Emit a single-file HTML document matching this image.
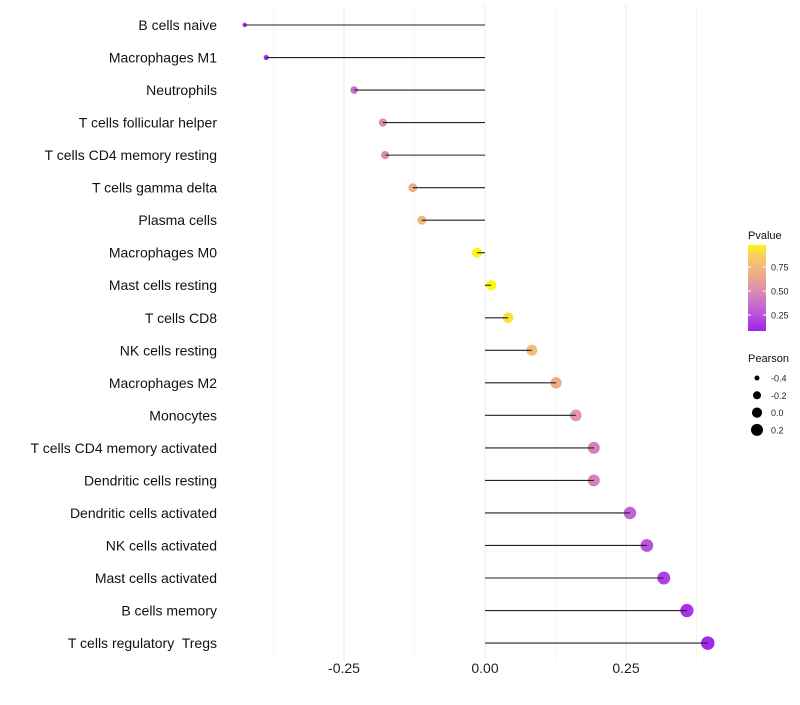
<!DOCTYPE html>
<html><head><meta charset="utf-8"><style>
body{margin:0;background:#fff;font-family:"Liberation Sans",Arial,sans-serif}
svg text{font-family:"Liberation Sans",Arial,sans-serif;white-space:pre}
</style></head><body>
<svg id="chart" width="800" height="700" xmlns="http://www.w3.org/2000/svg"></svg>
<script>
const categories=["B cells naive","Macrophages M1","Neutrophils","T cells follicular helper","T cells CD4 memory resting","T cells gamma delta","Plasma cells","Macrophages M0","Mast cells resting","T cells CD8","NK cells resting","Macrophages M2","Monocytes","T cells CD4 memory activated","Dendritic cells resting","Dendritic cells activated","NK cells activated","Mast cells activated","B cells memory","T cells regulatory  Tregs"];
const pearson=[-0.426,-0.388,-0.232,-0.181,-0.177,-0.128,-0.112,-0.014,0.011,0.041,0.083,0.126,0.161,0.193,0.193,0.257,0.287,0.317,0.358,0.395];
const pvalue=[0.10,0.12,0.38,0.50,0.50,0.68,0.72,0.97,0.98,0.92,0.78,0.68,0.56,0.45,0.45,0.32,0.26,0.20,0.15,0.12];
const xTicks=[-0.25,0,0.25];
const xTickLabels=["-0.25","0.00","0.25"];
const legendP=[0.75,0.5,0.25];
const legendPLabels=["0.75","0.50","0.25"];
const legendR=[-0.4,-0.2,0.0,0.2];
const legendRLabels=["-0.4","-0.2","0.0","0.2"];

const NS="http://www.w3.org/2000/svg";
const svg=document.getElementById('chart');
function el(t,a,p){const e=document.createElementNS(NS,t);for(const k in a)e.setAttribute(k,a[k]);(p||svg).appendChild(e);return e;}
const x=v=>485+v*564;
const y=i=>25+i*32.53;
const rad=v=>Math.sqrt(Math.max(26+49.6*v,2));
const stops=[[0.09,[160,32,240]],[0.3,[190,95,215]],[0.5,[218,140,180]],[0.7,[240,178,130]],[0.85,[248,200,110]],[1.0,[255,255,0]]];
function col(p){for(let i=1;i<stops.length;i++){if(p<=stops[i][0]){const a=stops[i-1],b=stops[i];const t=Math.max(0,(p-a[0])/(b[0]-a[0]));return 'rgb('+a[1].map((c,j)=>Math.round(c+(b[1][j]-c)*t)).join(',')+')';}}return 'rgb(255,255,0)';}

[-0.375,-0.125,0.125,0.375].forEach(v=>{const g=el('line',{x1:x(v),x2:x(v),y1:5,y2:660,stroke:'#f5f5f5','stroke-width':1});

});
xTicks.forEach((v,i)=>{const g=el('line',{x1:x(v),x2:x(v),y1:5,y2:660,stroke:'#ebebeb','stroke-width':1});


const t=el('text',{x:x(v),y:673,'text-anchor':'middle','font-size':14,fill:'#222'});t.textContent=xTickLabels[i];

});

categories.forEach((c,i)=>{
const t=el('text',{x:217,y:y(i)+5,'text-anchor':'end','font-size':14,fill:'#111'});t.textContent=c;


const d=el('circle',{cx:x(pearson[i]),cy:y(i),r:rad(pearson[i]),fill:col(pvalue[i])});


const l=el('line',{x1:x(0),x2:x(pearson[i]),y1:y(i),y2:y(i),stroke:'#222','stroke-width':1.1});


});

const defs=el('defs',{});
const gr=el('linearGradient',{id:'cb',x1:0,y1:1,x2:0,y2:0},defs);
for(let k=0;k<=10;k++){const p=0.094+k*(0.97-0.094)/10;el('stop',{offset:k/10,'stop-color':col(p)},gr);}
const lt=el('text',{x:748,y:239,'font-size':11,fill:'#111'});lt.textContent='Pvalue';


const cb=el('rect',{x:748,y:245,width:18,height:86,fill:'url(#cb)'});


const cy=p=>330-(p-0.094)*96;
legendP.forEach((p,i)=>{
el('line',{x1:748,x2:751,y1:cy(p),y2:cy(p),stroke:'#fff'});el('line',{x1:763,x2:766,y1:cy(p),y2:cy(p),stroke:'#fff'});
const t=el('text',{x:771,y:cy(p)+3.5,'font-size':9,fill:'#222'});t.textContent=legendPLabels[i];

});
const st=el('text',{x:748,y:362,'font-size':11,fill:'#111'});st.textContent='Pearson';


legendR.forEach((v,i)=>{const yy=378+i*17.3;
const c=el('circle',{cx:757,cy:yy,r:rad(v),fill:'#000'});


const t=el('text',{x:771,y:yy+3.5,'font-size':9,fill:'#222'});t.textContent=legendRLabels[i];

});
</script>
</body></html>
